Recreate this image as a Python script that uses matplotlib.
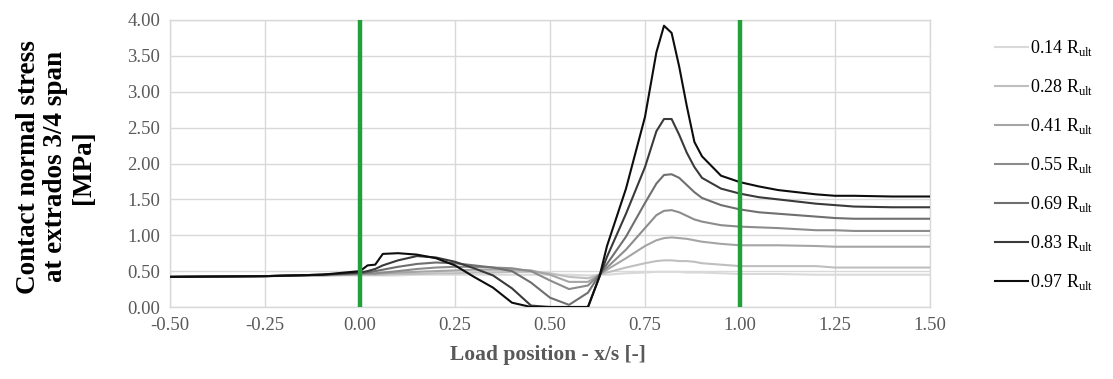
import matplotlib
matplotlib.use("Agg")
import matplotlib.pyplot as plt

# ---- data ----
x = [-0.50, -0.25, -0.10, 0.00, 0.02, 0.04, 0.06, 0.10, 0.15, 0.20, 0.25, 0.30, 0.35,
     0.40, 0.45, 0.50, 0.55, 0.60, 0.63, 0.65, 0.70, 0.75, 0.78, 0.80, 0.82, 0.84,
     0.86, 0.88, 0.90, 0.95, 1.00, 1.05, 1.10, 1.20, 1.25, 1.30, 1.40, 1.50]

r014 = [0.42, 0.43, 0.44, 0.44, 0.44, 0.44, 0.44, 0.44, 0.45, 0.45, 0.45, 0.45, 0.45,
        0.45, 0.45, 0.45, 0.45, 0.44, 0.45, 0.45, 0.47, 0.48, 0.49, 0.49, 0.49, 0.49,
        0.48, 0.48, 0.48, 0.47, 0.46, 0.46, 0.46, 0.45, 0.45, 0.45, 0.45, 0.45]
r028 = [0.42, 0.43, 0.44, 0.45, 0.45, 0.45, 0.45, 0.46, 0.46, 0.47, 0.47, 0.48, 0.48,
        0.49, 0.49, 0.47, 0.42, 0.40, 0.45, 0.48, 0.55, 0.61, 0.64, 0.65, 0.65, 0.64,
        0.64, 0.63, 0.61, 0.59, 0.57, 0.57, 0.57, 0.57, 0.55, 0.55, 0.55, 0.55]
r041 = [0.42, 0.43, 0.44, 0.46, 0.46, 0.46, 0.47, 0.48, 0.49, 0.50, 0.51, 0.52, 0.52,
        0.52, 0.51, 0.45, 0.35, 0.35, 0.45, 0.52, 0.68, 0.85, 0.93, 0.96, 0.97, 0.96,
        0.95, 0.93, 0.91, 0.88, 0.86, 0.86, 0.86, 0.85, 0.84, 0.84, 0.84, 0.84]
r055 = [0.42, 0.43, 0.45, 0.46, 0.47, 0.47, 0.48, 0.50, 0.53, 0.55, 0.56, 0.56, 0.55,
        0.54, 0.50, 0.37, 0.25, 0.30, 0.45, 0.55, 0.80, 1.10, 1.28, 1.34, 1.35, 1.32,
        1.27, 1.22, 1.19, 1.14, 1.12, 1.11, 1.10, 1.07, 1.07, 1.06, 1.06, 1.06]
r069 = [0.42, 0.43, 0.45, 0.47, 0.48, 0.50, 0.52, 0.56, 0.60, 0.62, 0.61, 0.58, 0.55,
        0.50, 0.34, 0.13, 0.03, 0.20, 0.45, 0.60, 0.98, 1.45, 1.72, 1.84, 1.85, 1.80,
        1.70, 1.60, 1.52, 1.42, 1.36, 1.32, 1.30, 1.26, 1.24, 1.23, 1.23, 1.23]
r083 = [0.42, 0.43, 0.45, 0.48, 0.50, 0.53, 0.58, 0.65, 0.71, 0.69, 0.63, 0.54, 0.44,
        0.26, 0.02, 0.00, 0.00, 0.00, 0.42, 0.70, 1.30, 1.95, 2.45, 2.62, 2.62, 2.40,
        2.15, 1.95, 1.80, 1.65, 1.58, 1.53, 1.50, 1.44, 1.42, 1.40, 1.39, 1.39]
r097 = [0.42, 0.43, 0.45, 0.50, 0.58, 0.59, 0.74, 0.75, 0.73, 0.68, 0.58, 0.42, 0.27,
        0.06, 0.00, 0.00, 0.00, 0.00, 0.42, 0.85, 1.65, 2.65, 3.55, 3.92, 3.82, 3.35,
        2.80, 2.30, 2.10, 1.83, 1.74, 1.68, 1.63, 1.57, 1.55, 1.55, 1.54, 1.54]

series = [r014, r028, r041, r055, r069, r083, r097]
labels = ["0.14", "0.28", "0.41", "0.55", "0.69", "0.83", "0.97"]
colors = ["#d9d9d9", "#bfbfbf", "#a5a5a5", "#8c8c8c", "#6f6f6f", "#3a3a3a", "#0d0d0d"]

xticks = [-0.50, -0.25, 0.00, 0.25, 0.50, 0.75, 1.00, 1.25, 1.50]
yticks = [0.0, 0.5, 1.0, 1.5, 2.0, 2.5, 3.0, 3.5, 4.0]
support_lines = [0.0, 1.0]

# ---- style ----
plt.rcParams["font.family"] = ["Liberation Serif", "DejaVu Serif"]
plt.rcParams["mathtext.fontset"] = "custom"
plt.rcParams["mathtext.rm"] = "Liberation Serif"

W, H = 1113, 379
fig = plt.figure(figsize=(W / 100, H / 100), dpi=100)
ax = fig.add_axes([170 / W, 1 - 307 / H, (930 - 170) / W, (307 - 20) / H])

for ys, lab, c in zip(series, labels, colors):
    ax.plot(x, ys, color=c, lw=1.5, label=lab + r" R$_{\mathrm{ult}}$", zorder=3)

for sx in support_lines:
    ax.axvline(sx, color="#22a03a", lw=3.2, zorder=4)

ax.set_xlim(-0.5, 1.5)
ax.set_ylim(0, 4)
ax.set_xticks(xticks)
ax.set_yticks(yticks)
ax.set_xticklabels([f"{t:.2f}" for t in xticks])
ax.set_yticklabels([f"{t:.2f}" for t in yticks])
ax.grid(True, color="#d9d9d9", lw=1.0, zorder=0)
for s in ax.spines.values():
    s.set_color("#d9d9d9")
    s.set_linewidth(1.0)
ax.tick_params(length=0, labelsize=13.5, labelcolor="#595959", pad=7)

fig.text(548 / W, 1 - 355 / H, "Load position - x/s [-]", ha="center", va="center",
         fontsize=15.5, fontweight="bold", color="#595959")
fig.text(56 / W, 1 - 167 / H, "Contact normal stress\nat extrados 3/4 span\n[MPa]",
         ha="center", va="center", rotation=90, fontsize=19.5, fontweight="bold",
         multialignment="center", linespacing=1.15)

leg = fig.legend(loc="upper left", bbox_to_anchor=(988 / W, 1 - 31 / H), frameon=False,
                 fontsize=13, handlelength=1.8, handletextpad=0.15, labelspacing=1.05,
                 borderaxespad=0)

fig.savefig("out.png", dpi=100)
